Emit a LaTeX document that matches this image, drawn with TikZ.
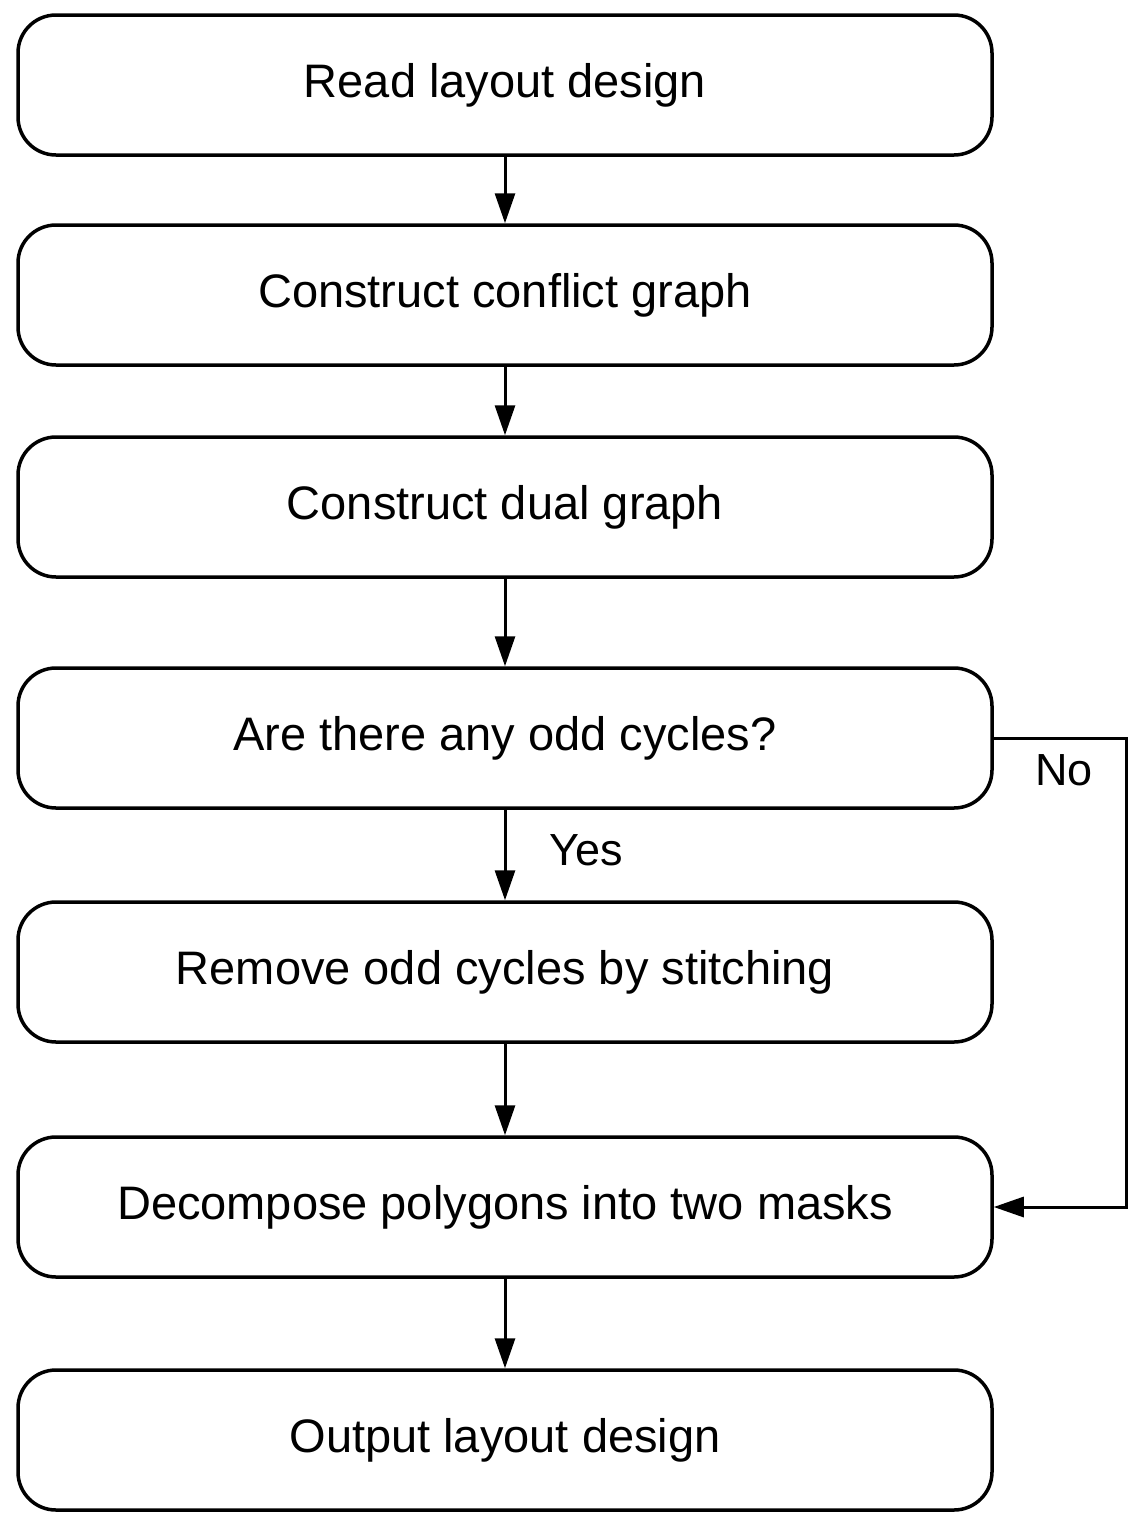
\documentclass[tikz,border=0pt]{standalone}
\usepackage{fontspec}
\setmainfont{Liberation Sans}
\usetikzlibrary{arrows.meta}
\begin{document}
\begin{tikzpicture}[x=1pt,y=-1pt,
  stepbox/.style={draw, line width=3.5pt, rounded corners=38pt, minimum width=974pt, minimum height=140pt, font=\fontsize{47}{52}\selectfont, inner sep=0pt},
  conn/.style={line width=3pt, -{Triangle[length=30pt,width=20pt]}},
  lbl/.style={font=\fontsize{45}{50}\selectfont, inner sep=0pt}]
\useasboundingbox (0,0) rectangle (1130,1513);
\node[stepbox] (b1) at (505,85) {Read layout design};
\node[stepbox] (b2) at (505,295) {Construct conflict graph};
\node[stepbox] (b3) at (505,507) {Construct dual graph};
\node[stepbox] (b4) at (505,738) {Are there any odd cycles?};
\node[stepbox] (b5) at (505,972) {Remove odd cycles by stitching};
\node[stepbox] (b6) at (505,1207) {Decompose polygons into two masks};
\node[stepbox] (b7) at (505,1440) {Output layout design};
\draw[conn] (b1) -- (b2);
\draw[conn] (b2) -- (b3);
\draw[conn] (b3) -- (b4);
\draw[conn] (b4) -- (b5);
\draw[conn] (b5) -- (b6);
\draw[conn] (b6) -- (b7);
\coordinate (c1) at (1126,738);
\coordinate (c2) at (1126,1207);
\draw[conn] (b4.east) -- (c1) -- (c2) -- (b6.east);
\node[lbl] (no) at (1064,770) {No};
\node[lbl] (yes) at (586,850) {Yes};
\end{tikzpicture}
\end{document}
